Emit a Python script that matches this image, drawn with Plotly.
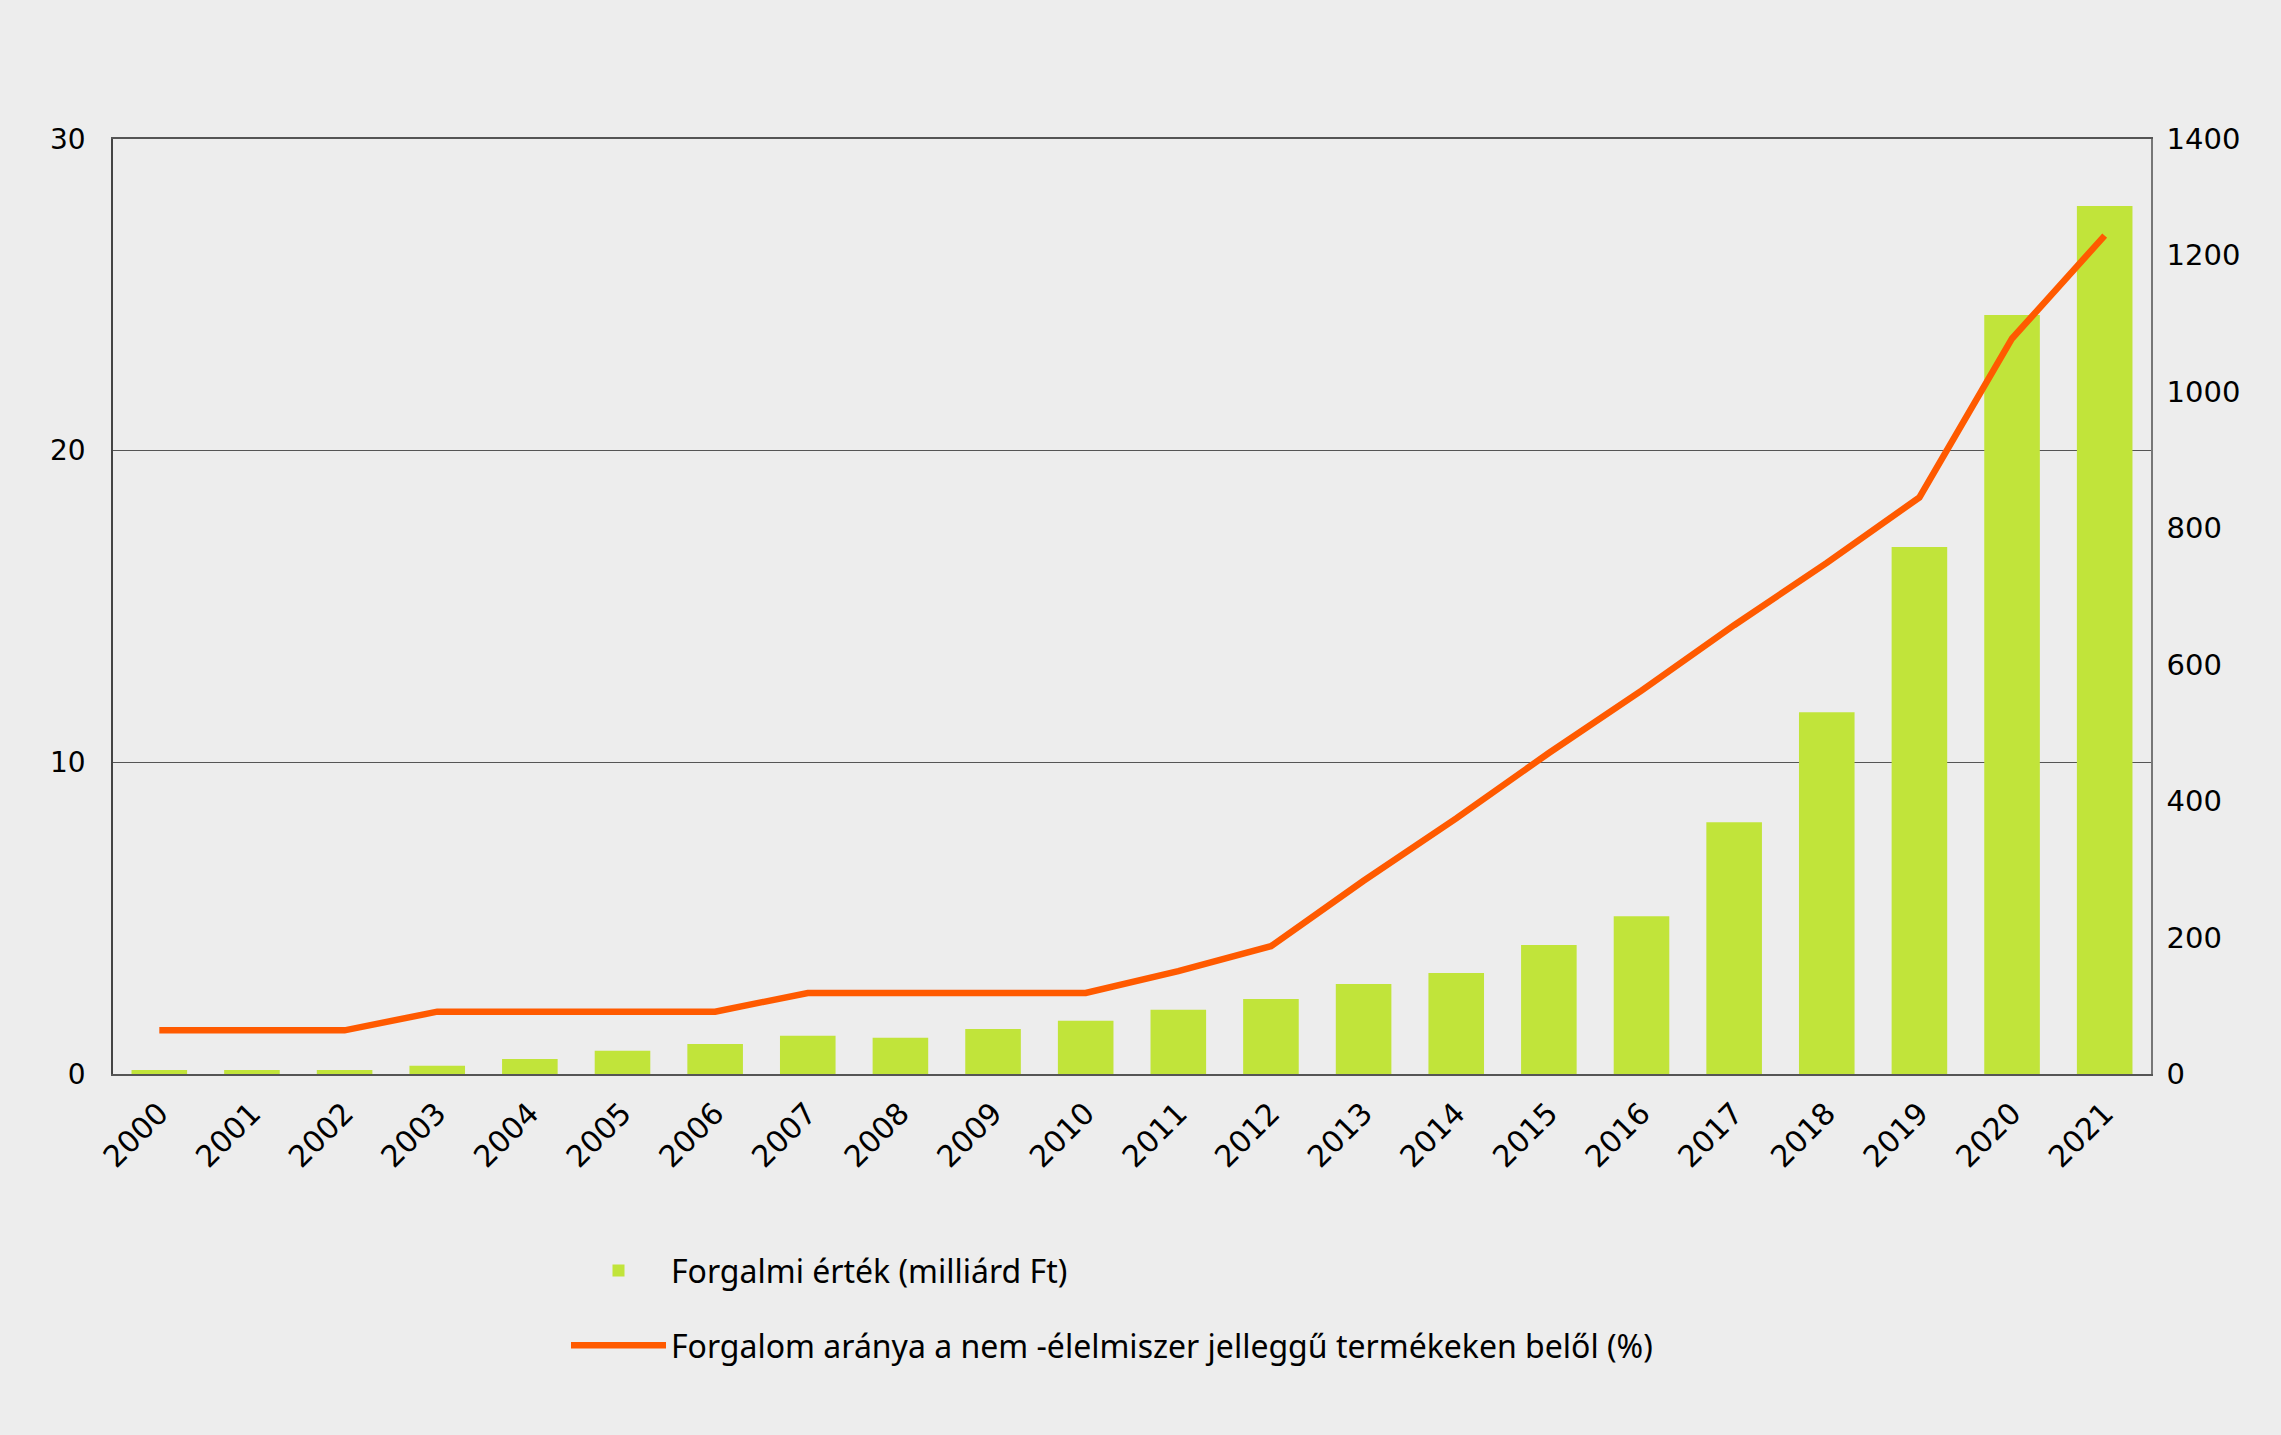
import plotly.graph_objects as go

years = [str(y) for y in range(2000, 2022)]
forgalmi_ertek = [6, 6, 6, 12, 22, 34, 44, 56, 53, 66, 78, 94, 110, 132, 148, 189, 231, 369, 530, 772, 1112, 1272]
forgalom_aranya = [1.4, 1.4, 1.4, 2.0, 2.0, 2.0, 2.0, 2.6, 2.6, 2.6, 2.6, 3.3, 4.1, 6.2, 8.2, 10.3, 12.3, 14.4, 16.4, 18.5, 23.6, 26.9]

left_ticks = [0, 10, 20, 30]
right_tickvals = [0, 200, 400, 600, 800, 1000, 1200, 1370]
right_ticktext = ["0", "200", "400", "600", "800", "1000", "1200", "1400"]

BG = "#EDEDED"
BAR = "#C1E43A"
LINE = "#FF5A00"
FONT = "DejaVu Sans"

fig = go.Figure()
fig.add_trace(go.Bar(
    x=years, y=forgalmi_ertek, name="Forgalmi érték (milliárd Ft)",
    marker=dict(color=BAR, line=dict(width=0)), yaxis="y", legendgroup="a",
))
fig.add_trace(go.Scatter(
    x=years, y=forgalom_aranya, name="Forgalom aránya a nem -élelmiszer jelleggű termékeken belől (%)",
    mode="lines", line=dict(color=LINE, width=6.5), yaxis="y2", legendgroup="b",
))

fig.update_layout(
    width=2281, height=1435,
    paper_bgcolor=BG, plot_bgcolor=BG,
    margin=dict(l=113, r=130, t=139, b=361),
    bargap=0.4,
    font=dict(family=FONT, size=28, color="#000"),
    xaxis=dict(
        type="category", tickangle=-45, showline=True, linecolor="#555", linewidth=1.5,
        mirror=True, ticks="", showgrid=False, tickfont=dict(size=30, family=FONT),
        ticklabelstandoff=8,
    ),
    yaxis=dict(
        side="right", range=[0, 1370], tickvals=right_tickvals, ticktext=right_ticktext,
        showgrid=False, zeroline=False, showline=True, linecolor="#777", linewidth=1.5,
        ticks="", tickfont=dict(size=29, family=FONT), ticklabelstandoff=8,
    ),
    yaxis2=dict(
        side="left", overlaying="y", range=[0, 30], tickvals=left_ticks,
        showgrid=True, gridcolor="#555", gridwidth=1, zeroline=False,
        showline=True, linecolor="#444", linewidth=1.5, ticks="",
        tickfont=dict(size=28, family=FONT), ticklabelstandoff=20,
    ),
    showlegend=True,
    legend=dict(
        orientation="v", x=(566 - 113) / 2038, y=-0.181, xanchor="left", yanchor="top",
        font=dict(family="Noto Sans", size=32, color="#000"),
        bgcolor="rgba(0,0,0,0)", itemwidth=95, tracegroupgap=30, traceorder="grouped",
    ),
)

fig.write_html(
    "out.html",
    config={"displayModeBar": False},
    post_script="document.body.style.margin='0';document.body.style.overflow='hidden';",
)
